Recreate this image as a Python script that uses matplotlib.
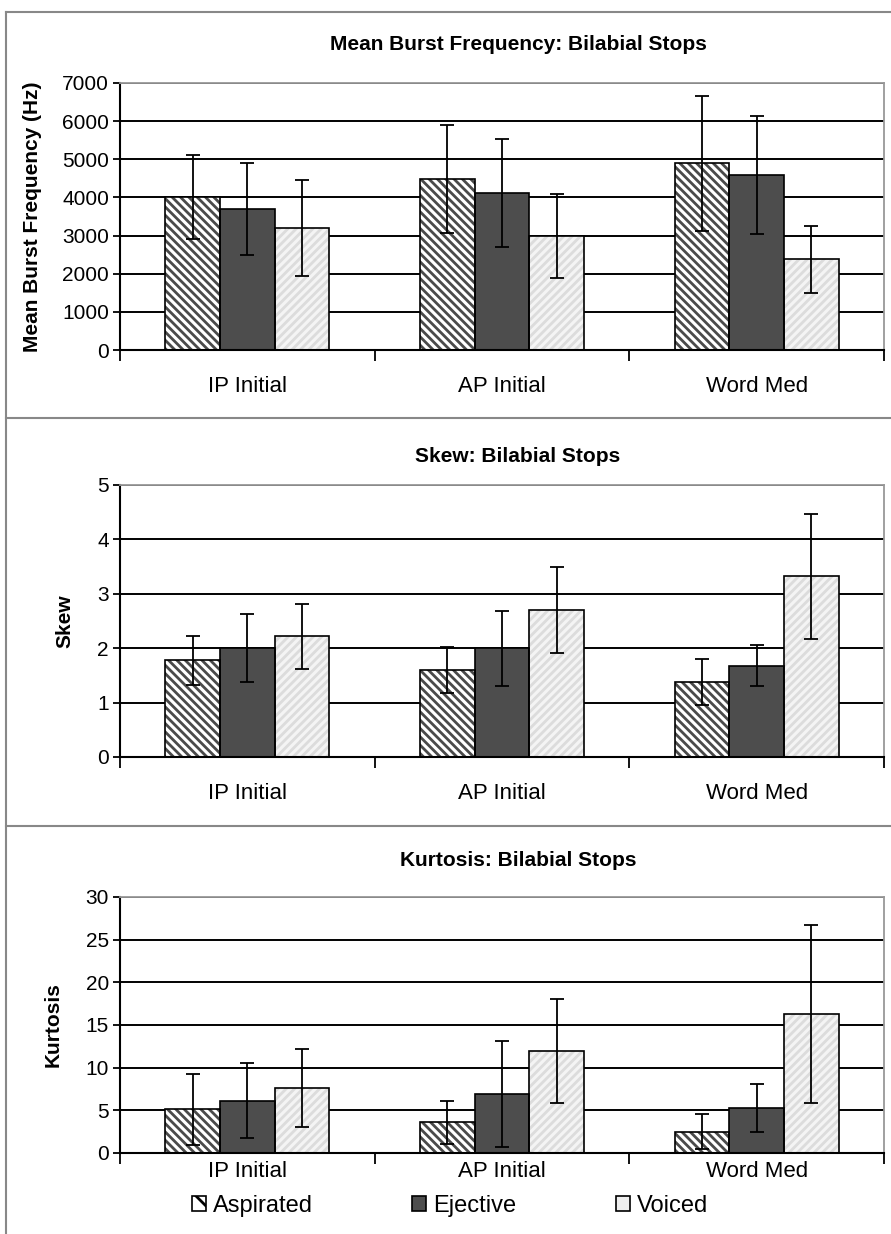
"""Bilabial stop burst measures: frequency, skew, kurtosis by position."""

import matplotlib
matplotlib.use("Agg")
import matplotlib.pyplot as plt
from matplotlib.lines import Line2D
from matplotlib.patches import Rectangle
import numpy as np

plt.rcParams["font.family"] = ["Liberation Sans Narrow", "Liberation Sans", "DejaVu Sans"]
plt.rcParams["hatch.linewidth"] = 2.0

positions = ["IP Initial", "AP Initial", "Word Med"]
series = ["Aspirated", "Ejective", "Voiced"]

freq_mean = {"Aspirated": [4000, 4480, 4900], "Ejective": [3700, 4120, 4580], "Voiced": [3200, 3000, 2380]}
freq_err = {"Aspirated": [1100, 1420, 1770], "Ejective": [1210, 1420, 1550], "Voiced": [1250, 1100, 880]}

skew_mean = {"Aspirated": [1.78, 1.60, 1.38], "Ejective": [2.0, 2.0, 1.68], "Voiced": [2.22, 2.70, 3.32]}
skew_err = {"Aspirated": [0.45, 0.43, 0.43], "Ejective": [0.62, 0.69, 0.38], "Voiced": [0.60, 0.79, 1.15]}

kurt_mean = {"Aspirated": [5.1, 3.6, 2.5], "Ejective": [6.1, 6.9, 5.3], "Voiced": [7.6, 12.0, 16.3]}
kurt_err = {"Aspirated": [4.2, 2.5, 2.05], "Ejective": [4.4, 6.2, 2.8], "Voiced": [4.6, 6.1, 10.45]}

panels = [
    ("Mean Burst Frequency: Bilabial Stops", "Mean Burst Frequency (Hz)", freq_mean, freq_err, 7000, 1000),
    ("Skew: Bilabial Stops", "Skew", skew_mean, skew_err, 5, 1),
    ("Kurtosis: Bilabial Stops", "Kurtosis", kurt_mean, kurt_err, 30, 5),
]

# style per series: face, hatch colour, hatch
styles = {
    "Aspirated": ("white", "#4a4a4a", "\\\\\\\\"),
    "Ejective": ("#4d4d4d", "#4d4d4d", None),
    "Voiced": ("#f4f4f4", "#dcdcdc", "////"),
}

W, H = 891, 1234
fig = plt.figure(figsize=(W / 100, H / 100), dpi=100)

# axes boxes in pixels: (top, bottom)
boxes = [(83, 350), (485, 757), (897, 1153)]
title_y = [45, 456, 860]
ylabel_x = [33, 65, 53]
xlabel_pad = [19, 19, 6]
left_px, right_px = 120, 884

width = 0.215
offsets = [-width, 0, width]
x = np.arange(len(positions))

for (title, ylabel, means, errs, ymax, step), (top, bot), ty, yx, xpad in zip(
        panels, boxes, title_y, ylabel_x, xlabel_pad):
    ax = fig.add_axes([left_px / W, 1 - bot / H, (right_px - left_px) / W, (bot - top) / H])
    for s, off in zip(series, offsets):
        face, hcol, hatch = styles[s]
        ax.bar(x + off, means[s], width, color=face, edgecolor=hcol, hatch=hatch, linewidth=0, zorder=2)
        ax.bar(x + off, means[s], width, color="none", edgecolor="black", linewidth=1.2, zorder=3)
        ax.errorbar(x + off, means[s], yerr=errs[s], fmt="none", ecolor="black",
                    elinewidth=1.3, capsize=5, capthick=1.3, zorder=4)
    ax.set_xlim(-0.5, 2.5)
    ax.set_ylim(0, ymax)
    ax.set_yticks(np.arange(0, ymax + step / 2, step))
    ax.yaxis.grid(True, color="black", linewidth=1.4, zorder=1)
    ax.set_axisbelow(True)
    ax.set_xticks(x)
    ax.set_xticklabels(positions, fontsize=16)
    ax.set_xticks([-0.5, 0.5, 1.5, 2.5], minor=True)
    ax.tick_params(axis="x", which="major", length=0, pad=xpad)
    ax.tick_params(axis="x", which="minor", length=8, width=1.3, direction="out")
    ax.tick_params(axis="y", length=5, width=1.3, labelsize=15, pad=3)
    for side in ("top", "right"):
        ax.spines[side].set_color("#999999")
        ax.spines[side].set_linewidth(1.3)
    for side in ("left", "bottom"):
        ax.spines[side].set_linewidth(1.5)
    fig.text(518 / W, 1 - ty / H, title, ha="center", va="center", fontsize=15, fontweight="bold")
    fig.text(yx / W, 1 - (top + bot) / 2 / H, ylabel, ha="center", va="center", rotation=90,
             fontsize=15, fontweight="bold", family=["Liberation Sans", "DejaVu Sans"])

# panel frames
frame = dict(color="#888888", linewidth=1.5, transform=fig.transFigure)
fig.add_artist(Line2D([6 / W, 6 / W], [0, 1 - 12 / H], **frame))
for yy in (12, 418, 826):
    fig.add_artist(Line2D([6 / W, 1], [1 - yy / H, 1 - yy / H], **frame))

handles = []
for s in series:
    face, hcol, hatch = styles[s]
    hatch_leg = "\\" if s == "Aspirated" else None
    fc = "#eeeeee" if s == "Voiced" else face
    handles.append(Rectangle((0, 0), 1, 1, facecolor=fc, edgecolor="black", hatch=hatch_leg, linewidth=1.2))
fig.legend(handles, series, loc="center", bbox_to_anchor=(450 / W, 1 - 1206 / H), ncol=3,
           frameon=False, fontsize=17, handlelength=0.6, handleheight=0.6, handletextpad=0.3,
           columnspacing=4.2)

fig.savefig("out.png", dpi=100)
